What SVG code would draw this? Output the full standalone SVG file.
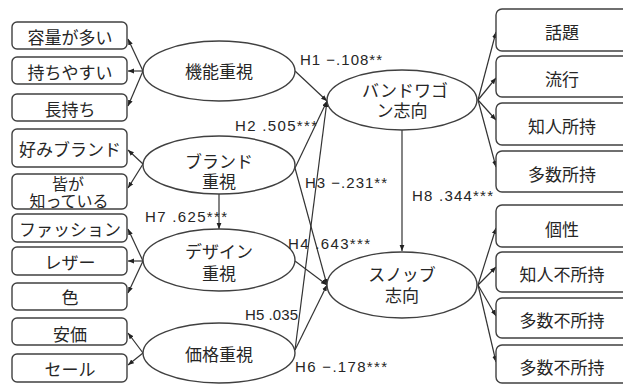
<svg xmlns="http://www.w3.org/2000/svg" width="623" height="385" viewBox="0 0 623 385">
<style>
.box{fill:#fff;stroke:#404040;stroke-width:1.4}
.ell{fill:#fff;stroke:#404040;stroke-width:1.4}
.t{font-family:"Liberation Sans","Noto Sans CJK JP",sans-serif;font-size:17px;fill:#262626;text-anchor:middle}
.s{font-size:16px}
.h{font-family:"Liberation Sans","Noto Sans CJK JP",sans-serif;font-size:15px;fill:#262626}
.c line{stroke:#333;stroke-width:1.2;marker-end:url(#a)}
</style>
<defs>
<marker id="a" markerUnits="userSpaceOnUse" markerWidth="8" markerHeight="8" refX="6" refY="3" orient="auto">
<path d="M0,0.6 L6,3 L0,5.4 Z" fill="#222"/>
</marker>
</defs>
<rect width="623" height="385" fill="#fff"/>
<g class="c">
<line x1="143" y1="71" x2="128" y2="39"/>
<line x1="143" y1="71" x2="128" y2="71"/>
<line x1="143" y1="71" x2="128" y2="106"/>
<line x1="143" y1="164" x2="128" y2="150"/>
<line x1="143" y1="164" x2="128" y2="188"/>
<line x1="143" y1="261" x2="128" y2="229"/>
<line x1="143" y1="261" x2="128" y2="261"/>
<line x1="143" y1="261" x2="128" y2="293"/>
<line x1="143" y1="353" x2="128" y2="333"/>
<line x1="143" y1="353" x2="128" y2="365"/>
<line x1="478" y1="100" x2="496" y2="32"/>
<line x1="478" y1="100" x2="496" y2="78"/>
<line x1="478" y1="100" x2="496" y2="120"/>
<line x1="478" y1="100" x2="496" y2="167"/>
<line x1="478" y1="285" x2="496" y2="228"/>
<line x1="478" y1="285" x2="496" y2="267"/>
<line x1="478" y1="285" x2="496" y2="316"/>
<line x1="478" y1="285" x2="496" y2="362"/>
<line x1="295" y1="71" x2="327" y2="101"/>
<line x1="295" y1="168" x2="327" y2="101"/>
<line x1="295" y1="168" x2="327" y2="285"/>
<line x1="295" y1="261" x2="327" y2="285"/>
<line x1="295" y1="350" x2="327" y2="101"/>
<line x1="295" y1="350" x2="327" y2="285"/>
<line x1="219" y1="194" x2="219" y2="229"/>
<line x1="402" y1="130" x2="402" y2="251"/>
</g>
<g id="n1"><rect class="box" x="12" y="22" width="115" height="27" rx="5"/><text class="t" x="70" y="44">容量が多い</text></g>
<g id="n2"><rect class="box" x="12" y="57" width="115" height="27" rx="5"/><text class="t" x="70" y="79">持ちやすい</text></g>
<g id="n3"><rect class="box" x="12" y="94" width="115" height="27" rx="5"/><text class="t" x="70" y="116">長持ち</text></g>
<g id="n4"><rect class="box" x="12" y="129" width="115" height="38" rx="5"/><text class="t" x="70" y="156">好みブランド</text></g>
<g id="n5"><rect class="box" x="12" y="174" width="115" height="35" rx="5"/><text class="t s" x="68" y="190">皆が</text><text class="t s" x="69" y="207">知っている</text></g>
<g id="n6"><rect class="box" x="12" y="214" width="115" height="28" rx="5"/><text class="t" x="70" y="236">ファッション</text></g>
<g id="n7"><rect class="box" x="12" y="247" width="115" height="28" rx="5"/><text class="t" x="70" y="269">レザー</text></g>
<g id="n8"><rect class="box" x="12" y="283" width="115" height="27" rx="5"/><text class="t" x="70" y="304">色</text></g>
<g id="n9"><rect class="box" x="12" y="318" width="115" height="27" rx="5"/><text class="t" x="70" y="341">安価</text></g>
<g id="n10"><rect class="box" x="12" y="354" width="115" height="28" rx="5"/><text class="t" x="70" y="376">セール</text></g>
<g id="e1"><ellipse class="ell" cx="219" cy="71" rx="76" ry="30"/><text class="t" x="219" y="78">機能重視</text></g>
<g id="e2"><ellipse class="ell" cx="219" cy="165" rx="76" ry="29"/><text class="t" x="219" y="168">ブランド</text><text class="t" x="219" y="188">重視</text></g>
<g id="e3"><ellipse class="ell" cx="219" cy="260" rx="76" ry="31"/><text class="t" x="219" y="258">デザイン</text><text class="t" x="219" y="280">重視</text></g>
<g id="e4"><ellipse class="ell" cx="219" cy="353" rx="76" ry="30"/><text class="t" x="219" y="361">価格重視</text></g>
<g id="e5"><ellipse class="ell" cx="402" cy="100" rx="75" ry="30"/><text class="t" x="405" y="97">バンドワゴ</text><text class="t" x="402" y="117">ン志向</text></g>
<g id="e6"><ellipse class="ell" cx="402" cy="285" rx="75" ry="33"/><text class="t" x="402" y="281">スノッブ</text><text class="t" x="402" y="302">志向</text></g>
<g id="r1"><rect class="box" x="496" y="9" width="140" height="42" rx="6"/><text class="t" x="562" y="39">話題</text></g>
<g id="r2"><rect class="box" x="496" y="56" width="140" height="41" rx="6"/><text class="t" x="562" y="86">流行</text></g>
<g id="r3"><rect class="box" x="496" y="103" width="140" height="42" rx="6"/><text class="t" x="562" y="133">知人所持</text></g>
<g id="r4"><rect class="box" x="496" y="151" width="140" height="41" rx="6"/><text class="t" x="562" y="181">多数所持</text></g>
<g id="r5"><rect class="box" x="496" y="205" width="140" height="42" rx="6"/><text class="t" x="562" y="236">個性</text></g>
<g id="r6"><rect class="box" x="496" y="252" width="140" height="40" rx="6"/><text class="t" x="562" y="281">知人不所持</text></g>
<g id="r7"><rect class="box" x="496" y="298" width="140" height="40" rx="6"/><text class="t" x="562" y="327">多数不所持</text></g>
<g id="r8"><rect class="box" x="496" y="345" width="140" height="38" rx="6"/><text class="t" x="562" y="374">多数不所持</text></g>
<g id="labels">
<text class="h" x="300" y="65" textLength="82" lengthAdjust="spacing">H1 −.108**</text>
<text class="h" x="235" y="131" textLength="82" lengthAdjust="spacing">H2 .505***</text>
<text class="h" x="305" y="188" textLength="82" lengthAdjust="spacing">H3 −.231**</text>
<text class="h" x="412" y="201" textLength="81" lengthAdjust="spacing">H8 .344***</text>
<text class="h" x="145" y="222" textLength="82" lengthAdjust="spacing">H7 .625***</text>
<text class="h" x="288" y="249" textLength="82" lengthAdjust="spacing">H4 .643***</text>
<text class="h" x="245" y="320" textLength="53" lengthAdjust="spacing">H5 .035</text>
<text class="h" x="295" y="372" textLength="92" lengthAdjust="spacing">H6 −.178***</text>
</g>
</svg>
